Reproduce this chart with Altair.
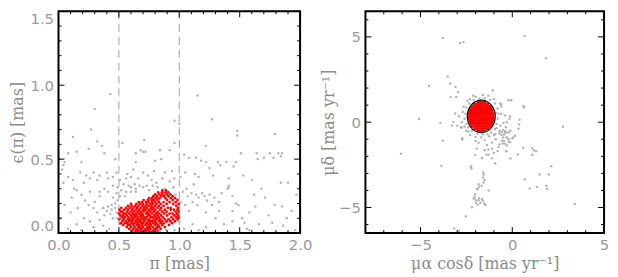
import altair as alt
import pandas as pd
import numpy as np

# ---------------- Left panel: parallax vs parallax error ----------------
plx_grey = [
    (0.43,0.94),(0.30,0.84),(1.15,0.93),(1.27,0.77),(0.96,0.76),(1.00,0.74),(0.27,0.70),(1.48,0.69),
    (1.48,0.66),(1.79,0.67),(0.12,0.65),(0.71,0.63),(0.53,0.61),(0.96,0.61),(1.22,0.59),(0.32,0.62),
    (0.36,0.59),(0.15,0.55),(0.08,0.54),(0.25,0.57),(0.68,0.56),(0.70,0.55),(0.72,0.55),(0.64,0.54),
    (0.38,0.54),(0.84,0.56),(0.92,0.56),(1.04,0.53),(1.08,0.51),(1.14,0.51),(1.18,0.49),(1.51,0.54),
    (1.65,0.50),(1.70,0.51),(1.75,0.54),(1.78,0.51),(1.82,0.54),(1.84,0.52),(1.85,0.54),(1.64,0.54),
    (0.01,0.50),(0.04,0.46),(0.05,0.48),(0.03,0.43),(0.47,0.50),(0.64,0.48),(0.80,0.49),(0.85,0.50),
    (0.19,0.48),(1.32,0.48),(1.39,0.48),(1.45,0.45),(1.22,0.48),(1.25,0.44),(1.34,0.46),(1.47,0.48),
    (0.08,0.38),(0.18,0.41),(0.29,0.41),(0.23,0.39),(0.34,0.39),(0.40,0.41),(0.48,0.41),(0.57,0.40),
    (0.62,0.43),(0.70,0.41),(0.79,0.42),(0.88,0.41),(0.94,0.42),(1.05,0.41),(1.13,0.40),(1.16,0.38),
    (1.28,0.39),(1.41,0.37),(1.53,0.39),(1.60,0.36),(1.84,0.34),(1.90,0.34),(0.04,0.34),(0.12,0.36),
    (0.21,0.34),(0.26,0.37),(0.32,0.36),(0.41,0.37),(0.45,0.38),(0.51,0.36),(0.56,0.37),(0.60,0.38),
    (0.66,0.37),(0.74,0.39),(0.81,0.34),(0.92,0.35),(0.96,0.37),(1.01,0.38),(1.41,0.32),(1.40,0.30),
    (0.45,0.32),(0.49,0.31),(0.54,0.33),(0.58,0.32),(0.60,0.31),(0.63,0.33),(0.64,0.30),(0.67,0.32),
    (0.70,0.31),(0.73,0.32),(0.52,0.29),(0.56,0.28),(0.60,0.28),(0.64,0.28),(0.48,0.27),(0.51,0.25),
    (0.55,0.25),(0.45,0.24),(0.49,0.22),(0.47,0.20),(0.44,0.19),(0.41,0.18),(0.37,0.17),(0.40,0.15),
    (0.44,0.16),(0.47,0.17),(0.48,0.14),(0.43,0.13),(0.38,0.12),(0.45,0.10),(0.49,0.10),(0.34,0.09),
    (0.32,0.14),(0.29,0.17),(0.25,0.19),(0.22,0.22),(0.19,0.26),(0.34,0.28),(0.38,0.30),(0.41,0.28),
    (0.34,0.25),(0.30,0.21),(0.26,0.28),(0.15,0.29),(0.11,0.24),(0.05,0.19),(0.10,0.14),(0.16,0.17),
    (0.21,0.10),(0.26,0.08),(0.15,0.06),(0.08,0.03),(0.19,0.02),(0.29,0.04),(0.37,0.05),(0.42,0.03),
    (0.51,0.06),(1.03,0.28),(1.07,0.25),(1.10,0.27),(1.14,0.26),(1.16,0.24),(1.19,0.27),(1.21,0.25),
    (1.23,0.22),(1.11,0.21),(1.05,0.19),(1.01,0.21),(1.15,0.19),(1.25,0.26),(1.29,0.24),(1.33,0.21),
    (1.27,0.19),(1.08,0.15),(1.22,0.14),(1.33,0.15),(1.44,0.25),(1.49,0.19),(1.58,0.14),(1.63,0.18),
    (1.68,0.30),(1.41,0.31),(1.71,0.24),(1.79,0.19),(1.85,0.18),(1.93,0.15),(1.89,0.10),(1.77,0.07),
    (1.86,0.05),(1.96,0.02),(1.66,0.06),(1.56,0.03),(1.58,0.02),(1.44,0.08),(1.37,0.06),(1.30,0.10),
    (1.22,0.04),(1.16,0.02),(1.11,0.06),(1.04,0.03),(1.00,0.08),(0.96,0.02),(0.89,0.02),(0.84,0.01),
    (0.77,0.02),(0.81,0.04),(0.60,0.02),(1.44,0.15),(1.54,0.07),(1.47,0.20),(1.52,0.10),(0.75,0.29),
    (0.78,0.32),(0.82,0.31),(0.88,0.30),(0.90,0.28),(0.95,0.31),(0.97,0.26),(0.86,0.37),(0.77,0.36),
    (1.12,0.33),(1.06,0.30),(1.35,0.27),(1.62,0.26),(1.74,0.12),(1.97,0.26),(0.02,0.10),(0.13,0.30),
]

plx_red_rows = [
    (0.004, [0.635,0.66,0.69,0.705,0.73,0.76,0.775,0.80]),
    (0.016, [0.61,0.64,0.655,0.68,0.71,0.725,0.75,0.785,0.82]),
    (0.029, [0.585,0.62,0.645,0.67,0.69,0.72,0.74,0.76,0.795,0.81,0.845]),
    (0.041, [0.565,0.60,0.63,0.66,0.675,0.70,0.735,0.755,0.78,0.815,0.835,0.88]),
    (0.055, [0.535,0.575,0.59,0.62,0.65,0.665,0.69,0.72,0.745,0.765,0.80,0.825,0.86,0.915]),
    (0.067, [0.515,0.55,0.57,0.605,0.63,0.655,0.685,0.70,0.73,0.755,0.785,0.81,0.845,0.87,0.94]),
    (0.080, [0.53,0.56,0.585,0.61,0.64,0.665,0.68,0.71,0.74,0.76,0.775,0.80,0.835,0.855,0.895,0.925,0.965]),
    (0.093, [0.505,0.54,0.575,0.595,0.62,0.65,0.675,0.70,0.72,0.75,0.79,0.815,0.84,0.88,0.91,0.95,0.985]),
    (0.106, [0.525,0.55,0.58,0.61,0.635,0.66,0.69,0.715,0.73,0.765,0.78,0.805,0.83,0.865,0.935,0.975,0.995]),
    (0.119, [0.51,0.535,0.565,0.60,0.625,0.645,0.68,0.70,0.74,0.755,0.795,0.82,0.85,0.90,0.96,0.99]),
    (0.132, [0.50,0.54,0.555,0.585,0.615,0.64,0.665,0.69,0.725,0.745,0.775,0.81,0.835,0.875,0.92,0.945,0.98]),
    (0.145, [0.515,0.53,0.57,0.60,0.625,0.655,0.68,0.705,0.735,0.76,0.79,0.82,0.86,0.895,0.97,0.995]),
    (0.158, [0.505,0.545,0.575,0.61,0.64,0.665,0.70,0.72,0.75,0.775,0.80,0.84,0.88,0.93,0.955,0.985]),
    (0.171, [0.52,0.56,0.59,0.62,0.65,0.68,0.71,0.73,0.765,0.785,0.82,0.85,0.905,0.93,0.99]),
    (0.184, [0.575,0.605,0.635,0.66,0.695,0.72,0.745,0.77,0.80,0.83,0.87,0.975]),
    (0.197, [0.60,0.645,0.675,0.70,0.73,0.76,0.78,0.81,0.845,0.895,0.95,0.995]),
    (0.210, [0.665,0.69,0.725,0.745,0.775,0.80,0.83,0.87,0.92,0.97]),
    (0.223, [0.705,0.74,0.77,0.79,0.82,0.90,0.945,0.985]),
    (0.236, [0.75,0.775,0.805,0.835,0.885,0.93,0.965]),
    (0.249, [0.785,0.815,0.85,0.875,0.91,0.945]),
    (0.262, [0.80,0.835,0.865,0.895,0.925]),
    (0.275, [0.825,0.855,0.885,0.91]),
    (0.288, [0.86,0.89]),
]

plx_cuts = [0.5, 1.0]
plx_major_x = [0.0, 0.5, 1.0, 1.5, 2.0]
plx_minor_x = [0.1,0.2,0.3,0.4,0.6,0.7,0.8,0.9,1.1,1.2,1.3,1.4,1.6,1.7,1.8,1.9]
err_major_y = [0.0, 0.5, 1.0, 1.5]
err_minor_y = [0.1,0.2,0.3,0.4,0.6,0.7,0.8,0.9,1.1,1.2,1.3,1.4]

# ---------------- Right panel: proper motions ----------------
pm_grey = [
    (-3.79,4.94),(-2.84,4.64),(-2.66,4.70),(0.68,5.06),(1.83,3.75),
    (-3.52,2.67),(-4.53,2.12),(-3.38,2.27),(-3.09,2.06),(-2.95,1.76),(-3.36,1.47),(-3.05,1.48),(-1.06,1.87),(-2.14,1.55),
    (-5.08,0.19),(-3.92,-0.04),(-6.07,-1.85),(-3.79,-1.09),(-3.86,-2.56),
    (-3.11,0.51),(-3.21,0.02),(-3.28,-0.20),(-2.75,-0.32),(-2.73,-0.94),(-2.72,-1.02),
    (2.76,-0.27),(0.60,0.95),(0.64,0.88),(-0.06,1.29),(-0.60,1.04),(0.40,0.15),(0.37,-0.13),(0.33,-0.38),(0.15,-0.80),
    (0.60,-1.50),(1.09,-1.52),(1.18,-1.65),(1.30,-1.70),(1.09,-1.91),(0.30,-1.89),(-0.10,-2.12),(-0.32,-1.70),
    (-0.39,-1.27),(-0.52,-1.25),(-0.75,-1.46),(-0.80,-1.69),(-1.00,-1.80),(-1.11,-2.12),(-1.41,-1.91),(-1.65,-2.12),
    (-1.94,-1.55),(-1.83,-1.21),(-2.26,-2.62),(-2.22,-2.72),(-1.56,-3.07),(-1.59,-3.26),(-1.50,-3.39),(-1.67,-3.73),
    (-1.81,-3.79),(-1.88,-3.92),(-2.03,-4.24),
    (-2.10,-4.49),(-1.97,-4.58),(-1.83,-4.58),(-1.65,-4.51),(-1.97,-4.73),(-1.74,-4.73),(-1.52,-4.77),(-1.88,-4.83),
    (-1.60,-4.60),(-2.05,-4.40),(-1.80,-4.45),(-2.19,-4.98),(-2.53,-5.53),(-3.16,-6.23),(-2.91,-6.36),
    (0.68,-3.35),(0.95,-3.88),(1.34,-3.79),(1.49,-3.07),(1.99,-3.07),(2.12,-2.58),(1.86,-3.73),(1.90,-3.92),(3.40,-4.79),
    (-0.69,-0.51),(-0.57,-0.56),(-0.46,-0.72),(-0.33,-0.60),(0.05,-0.90),(-0.20,-1.00),
    (-2.55,0.50),(-2.60,0.20),(-2.50,-0.10),(-2.50,0.85),(-2.35,1.10),(-2.10,1.30),(-1.80,1.38),(-1.50,1.40),
    (-1.20,1.30),(-0.95,1.10),(-0.80,0.80),(-0.75,0.50),(-0.80,0.20),(-0.85,-0.10),(-0.95,-0.40),(-1.15,-0.60),
    (-1.35,-0.70),(-1.60,-0.72),(-1.90,-0.68),(-2.20,-0.50),(-2.40,-0.30),(-2.70,0.60),(-2.75,0.00),(-2.30,-0.75),
    (-1.30,1.55),(-0.60,0.90),(-0.65,-0.20),(-0.70,-0.65),(-1.00,-0.75),(-1.25,-0.82),(-0.50,-0.45),(-0.40,-0.60),
    (-0.30,-0.90),(-0.50,-0.90),(-0.20,-0.60),(-0.60,-0.75),(-0.35,-0.30),(-0.10,-0.50),(0.00,-0.95),(-0.20,-1.15),
    (-0.45,-1.10),(-0.15,0.20),(-0.40,0.40),(-0.60,0.50),(-0.30,0.00),(-2.00,1.50),(-2.30,1.35),(-1.00,1.35),
    (-1.60,1.60),(-2.80,-0.30),(-2.90,0.35),(-3.00,-0.20),(-0.90,-1.00),(-1.10,-1.20),(-0.70,-1.30),(-1.50,-1.05),
    (-1.70,-0.90),(-2.00,-1.10),(-1.30,-1.60),(-0.85,-0.35),(-0.90,0.55),(-2.50,-0.50),(-2.00,-0.85),
    (-0.66,1.10),(-0.20,1.29),(-0.12,0.34),(-0.48,-0.04),(-0.39,-0.51),(-0.93,-0.70),(-0.30,-0.89),(-0.57,-1.08),
    (-0.12,-1.17),(-0.30,-1.36),(-1.38,-1.33),(-1.10,-1.55),(-1.50,-1.64),(-2.01,-1.93),(-1.65,-2.08),(-1.29,-1.90),
    (-0.93,-2.41),(-1.58,-2.95),(-2.24,-2.60),(-1.83,-3.64),(-1.56,-3.54),(-1.92,-3.92),(-1.29,-4.00),(-1.47,-4.85),
    (-2.65,0.90),(-2.45,1.25),(-2.60,-0.25),(-2.40,-0.55),
]

pm_red_rows = [
    (-0.50, [-1.88,-1.76,-1.64,-1.52]),
    (-0.38, [-2.03,-1.91,-1.79,-1.67,-1.55,-1.43,-1.33]),
    (-0.26, [-2.18,-2.06,-1.94,-1.82,-1.70,-1.58,-1.46,-1.34,-1.22]),
    (-0.14, [-2.23,-2.11,-1.99,-1.87,-1.75,-1.63,-1.51,-1.39,-1.27,-1.15]),
    (-0.02, [-2.30,-2.18,-2.06,-1.94,-1.82,-1.70,-1.58,-1.46,-1.34,-1.22,-1.10]),
    (0.10, [-2.31,-2.19,-2.07,-1.95,-1.83,-1.71,-1.59,-1.47,-1.35,-1.23,-1.11,-1.05]),
    (0.22, [-2.36,-2.24,-2.12,-2.00,-1.88,-1.76,-1.64,-1.52,-1.40,-1.28,-1.16,-1.04]),
    (0.34, [-2.34,-2.22,-2.10,-1.98,-1.86,-1.74,-1.62,-1.50,-1.38,-1.26,-1.14,-1.04]),
    (0.46, [-2.36,-2.24,-2.12,-2.00,-1.88,-1.76,-1.64,-1.52,-1.40,-1.28,-1.16,-1.05]),
    (0.58, [-2.32,-2.20,-2.08,-1.96,-1.84,-1.72,-1.60,-1.48,-1.36,-1.24,-1.12]),
    (0.70, [-2.30,-2.18,-2.06,-1.94,-1.82,-1.70,-1.58,-1.46,-1.34,-1.22,-1.10]),
    (0.82, [-2.24,-2.12,-2.00,-1.88,-1.76,-1.64,-1.52,-1.40,-1.28,-1.16]),
    (0.94, [-2.16,-2.04,-1.92,-1.80,-1.68,-1.56,-1.44,-1.32,-1.21]),
    (1.06, [-2.06,-1.94,-1.82,-1.70,-1.58,-1.46,-1.34]),
    (1.18, [-1.86,-1.74,-1.62,-1.50]),
]

pm_circle_center = (-1.69, 0.34)
pm_circle_radii = (0.76, 0.95)

pm_major = [-5, 0, 5]
pm_minor_x = [-8,-7,-6,-4,-3,-2,-1,1,2,3,4]
pm_minor_y = [-6,-4,-3,-2,-1,1,2,3,4,6]

# ---------------- build tables ----------------
plx_grey_df = pd.DataFrame(plx_grey, columns=["x", "y"])
plx_red_df = pd.DataFrame([(x, y) for y, xs in plx_red_rows for x in xs], columns=["x", "y"])
pm_grey_df = pd.DataFrame(pm_grey, columns=["x", "y"])
pm_red_df = pd.DataFrame([(x, y) for y, xs in pm_red_rows for x in xs], columns=["x", "y"])

t = np.linspace(0, 2 * np.pi, 121)
ell_df = pd.DataFrame({
    "x": pm_circle_center[0] + pm_circle_radii[0] * np.cos(t),
    "y": pm_circle_center[1] + pm_circle_radii[1] * np.sin(t),
    "o": np.arange(len(t)),
})

GREY = "#b3b3b3"
RED = "#ff0000"
LABEL = "#9a9a9a"
TITLE = "#8a8a8a"
MAJ, MIN = 6, 3


def panel(xdom, ydom, W, H, xaxis, yaxis, majx, minx, majy, miny, layers):
    xs = alt.Scale(domain=xdom, nice=False, zero=False, padding=0)
    ys = alt.Scale(domain=ydom, nice=False, zero=False, padding=0)
    X = lambda f="x": alt.X(f + ":Q", scale=xs, axis=xaxis)
    Y = lambda f="y": alt.Y(f + ":Q", scale=ys, axis=yaxis)
    out = [lay(X, Y) for lay in layers]
    for vals, L in ((majx, MAJ), (minx, MIN)):
        d = pd.DataFrame({"x": vals})
        base = alt.Chart(d).mark_rule(color="black", strokeWidth=1)
        out.append(base.encode(x=X(), y=alt.value(H), y2=alt.value(H - L)))
        out.append(base.encode(x=X(), y=alt.value(0), y2=alt.value(L)))
    for vals, L in ((majy, MAJ), (miny, MIN)):
        d = pd.DataFrame({"y": vals})
        base = alt.Chart(d).mark_rule(color="black", strokeWidth=1)
        out.append(base.encode(y=Y(), x=alt.value(0), x2=alt.value(L)))
        out.append(base.encode(y=Y(), x=alt.value(W), x2=alt.value(W - L)))
    frame = alt.Chart(pd.DataFrame({"f": [0]})).mark_rect(
        filled=False, stroke="black", strokeWidth=2).encode(
        x=alt.value(0), x2=alt.value(W), y=alt.value(0), y2=alt.value(H))
    out.append(frame)
    return alt.layer(*out).properties(width=W, height=H)


ax_common = dict(domain=False, ticks=False, tickSize=0, grid=False,
                 labelColor=LABEL, labelFont="DejaVu Sans ExtraLight, DejaVu Sans", labelFontSize=15,
                 titleColor=TITLE, titleFont="DejaVu Serif", titleFontSize=16,
                 titleFontWeight="normal", labelPadding=5)

H = 224
LW, RW = 244, 241

left_x_axis = alt.Axis(values=plx_major_x, format=".1f", title="π  [mas]", titlePadding=3,
                       labelFlush=False, **ax_common)
left_y_axis = alt.Axis(values=err_major_y, format=".1f", title="ϵ(π)  [mas]", titlePadding=5,
                       labelFlush=True, **ax_common)

left_layers = [
    lambda X, Y: alt.Chart(pd.DataFrame({"x": plx_cuts})).mark_rule(
        color="#a0a0a0", strokeDash=[8, 5], strokeWidth=1).encode(x=X()),
    lambda X, Y: alt.Chart(plx_grey_df).mark_circle(size=6, color=GREY, opacity=1).encode(x=X(), y=Y()),
    lambda X, Y: alt.Chart(plx_red_df).mark_circle(size=8, color=RED, opacity=1).encode(x=X(), y=Y()),
]
left = panel([0, 2], [0, 1.5], LW, H, left_x_axis, left_y_axis,
             plx_major_x, plx_minor_x, err_major_y, err_minor_y, left_layers)

right_x_axis = alt.Axis(values=pm_major, format="d", title="μα cosδ  [mas yr⁻¹]", titlePadding=3,
                        labelFlush=False, **ax_common)
right_y_axis = alt.Axis(values=pm_major, format="d", title="μδ  [mas yr⁻¹]", titlePadding=2,
                        labelFlush=False, **ax_common)

right_layers = [
    lambda X, Y: alt.Chart(pm_grey_df).mark_circle(size=6, color=GREY, opacity=1, clip=True).encode(x=X(), y=Y()),
    lambda X, Y: alt.Chart(pm_red_df).mark_circle(size=9, color=RED, opacity=1).encode(x=X(), y=Y()),
    lambda X, Y: alt.Chart(ell_df).mark_line(color="black", strokeWidth=1.2).encode(
        x=X(), y=Y(), order="o:Q"),
]
right = panel([-8, 5], [-6.5, 6.5], RW, H, right_x_axis, right_y_axis,
              pm_major, pm_minor_x, pm_major, pm_minor_y, right_layers)

chart = alt.hconcat(left, right, spacing=7).properties(
    padding={"left": 0, "top": 0, "right": 0, "bottom": 0}
).configure_view(stroke="transparent")

chart.save("out.html", embed_options={"renderer": "svg", "actions": False})
